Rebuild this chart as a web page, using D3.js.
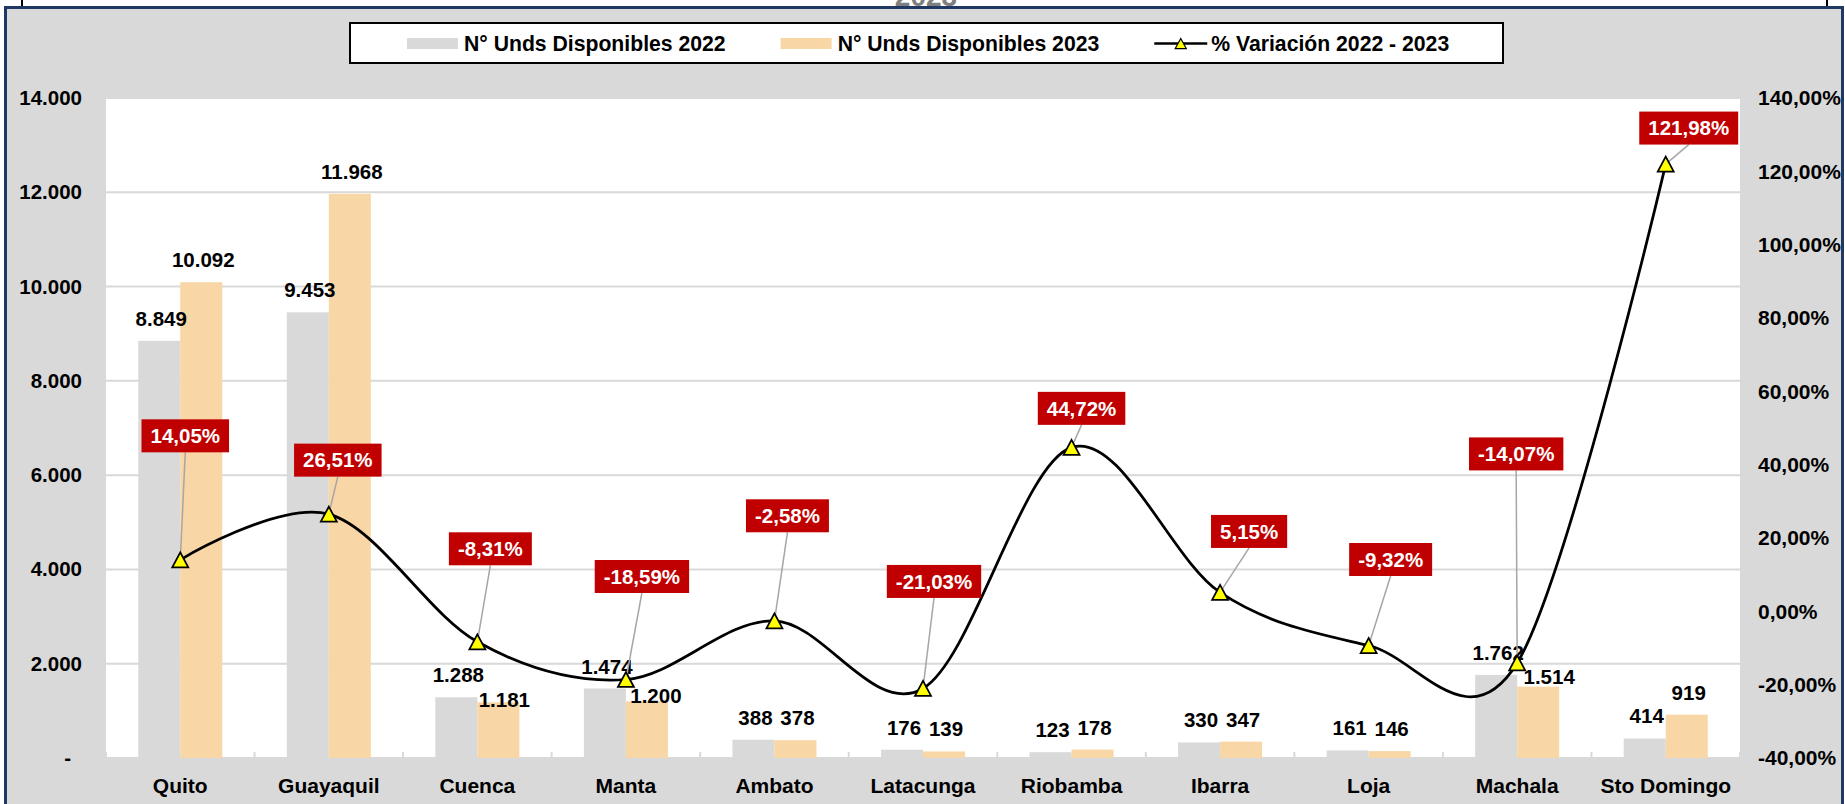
<!DOCTYPE html>
<html>
<head>
<meta charset="utf-8">
<script src="https://cdn.jsdelivr.net/npm/d3@7"></script>
<style>
  html, body { margin: 0; padding: 0; background: #fff; }
  svg { display: block; font-family: 'Liberation Sans', Arial, sans-serif; font-weight: bold; }
</style>
</head>
<body>
<script>
const cities = ['Quito', 'Guayaquil', 'Cuenca', 'Manta', 'Ambato', 'Latacunga', 'Riobamba', 'Ibarra', 'Loja', 'Machala', 'Sto Domingo']
const units2022 = [8849, 9453, 1288, 1474, 388, 176, 123, 330, 161, 1762, 414]
const units2023 = [10092, 11968, 1181, 1200, 378, 139, 178, 347, 146, 1514, 919]
const variation = [14.05, 26.51, -8.31, -18.59, -2.58, -21.03, 44.72, 5.15, -9.32, -14.07, 121.98]
const leftTicks = d3.range(0, 14001, 2000)
const rightTicks = d3.range(-40, 141, 20)
const seriesNames = ['N° Unds Disponibles 2022', 'N° Unds Disponibles 2023', '% Variación 2022 - 2023']
const titleText = '2023'

// red labels were dragged around by hand in the original, offsets from their point
const pctLabelOffset = [[5, -124], [9, -54], [13, -93], [16, -103], [13, -105], [11, -107], [10, -39], [29, -61], [22, -86], [-1, -209], [23, -36]]
// same for a few of the 2023 value labels
const label2023Nudge = { 2: [4, 20], 3: [7, 17], 9: [9, 12] }

const colors = { y2022: '#d9d9d9', y2023: '#f8d6a5', red: '#c00000', frame: '#1f3864', grid: '#d9d9d9' }

const es = d3.formatLocale({ decimal: ',', thousands: '.', grouping: [3], currency: ['', ''], minus: '-' })
const fmtUnits = es.format(',')
const fmtPct = (v) => es.format('.2f')(v) + '%'

const width = 1845
const height = 804
const plot = { left: 106, right: 1740, top: 98, bottom: 758 }

const svg = d3.select('body').append('svg')
  .attr('width', width)
  .attr('height', height)
  .attr('viewBox', [0, 0, width, height])

// title of the sheet above, mostly hidden behind the chart frame
svg.append('text')
  .text(titleText)
  .attr('x', 926)
  .attr('y', 6)
  .attr('text-anchor', 'middle')
  .attr('font-size', 28)
  .attr('fill', '#7f7f7f')

svg.selectAll('.outer')
  .data([22, 1827])
  .join('line')
    .attr('x1', d => d).attr('x2', d => d)
    .attr('y1', 0).attr('y2', 8)
    .attr('stroke', '#000')
    .attr('stroke-width', 2)

svg.append('rect')
  .attr('x', 5.5)
  .attr('y', 7.5)
  .attr('width', 1837)
  .attr('height', 830)
  .attr('fill', '#d9d9d9')
  .attr('stroke', colors.frame)
  .attr('stroke-width', 3)

svg.append('rect')
  .attr('x', plot.left)
  .attr('y', plot.top)
  .attr('width', plot.right - plot.left)
  .attr('height', plot.bottom - plot.top)
  .attr('fill', '#fff')

const x = d3.scaleBand().domain(cities).range([plot.left, plot.right])
const xSub = d3.scaleBand().domain([0, 1]).range([0, x.bandwidth()]).paddingOuter(0.768)
const y = d3.scaleLinear().domain([0, 14000]).range([plot.bottom, plot.top])
const yPct = d3.scaleLinear().domain([-40, 140]).range([plot.bottom, plot.top])
const cx = (i) => x(cities[i]) + x.bandwidth() / 2

// gridlines
svg.append('g')
  .selectAll('line')
  .data(leftTicks)
  .join('line')
    .attr('x1', plot.left)
    .attr('x2', plot.right)
    .attr('y1', d => y(d))
    .attr('y2', d => y(d))
    .attr('stroke', colors.grid)
    .attr('stroke-width', 2)

// category separators
svg.append('g')
  .selectAll('line')
  .data(d3.range(cities.length + 1))
  .join('line')
    .attr('x1', i => plot.left + i * x.step())
    .attr('x2', i => plot.left + i * x.step())
    .attr('y1', plot.bottom - 6)
    .attr('y2', plot.bottom + 4)
    .attr('stroke', colors.grid)
    .attr('stroke-width', 2)

// bars
const series = [
  { values: units2022, color: colors.y2022 },
  { values: units2023, color: colors.y2023 },
]
series.forEach((s, k) => {
  svg.append('g')
    .selectAll('rect')
    .data(s.values)
    .join('rect')
      .attr('x', (d, i) => x(cities[i]) + xSub(k))
      .attr('y', d => y(d))
      .attr('width', xSub.bandwidth())
      .attr('height', d => y(0) - y(d))
      .attr('fill', s.color)
})

// left axis
const leftAxis = svg.append('g')
  .attr('transform', 'translate(82,0)')
  .call(d3.axisLeft(y).tickValues(leftTicks).tickSize(0).tickPadding(0)
    .tickFormat(d => d === 0 ? '-' : fmtUnits(d)))
leftAxis.select('.domain').remove()
leftAxis.selectAll('text')
  .attr('font-size', 20.5)
  .attr('font-family', null)
  .attr('fill', '#000')
  .attr('x', d => d === 0 ? -11 : 0)

// right axis
const rightAxis = svg.append('g')
  .attr('transform', 'translate(1758,0)')
  .call(d3.axisRight(yPct).tickValues(rightTicks).tickSize(0).tickPadding(0)
    .tickFormat(fmtPct))
rightAxis.select('.domain').remove()
rightAxis.selectAll('text')
  .attr('font-size', 21)
  .attr('font-family', null)
  .attr('fill', '#000')

// category axis
const bottomAxis = svg.append('g')
  .attr('transform', `translate(0,${plot.bottom})`)
  .call(d3.axisBottom(x).tickSize(0).tickPadding(20))
bottomAxis.select('.domain').remove()
bottomAxis.selectAll('text')
  .attr('font-size', 21)
  .attr('font-family', null)
  .attr('fill', '#000')

// value labels on bars
series.forEach((s, k) => {
  svg.append('g')
    .selectAll('text')
    .data(s.values)
    .join('text')
      .text(d => fmtUnits(d))
      .attr('x', (d, i) => x(cities[i]) + xSub(k) + xSub.bandwidth() / 2 + 2 + (k === 1 && label2023Nudge[i] ? label2023Nudge[i][0] : 0))
      .attr('y', (d, i) => y(d) - 15 + (k === 1 && label2023Nudge[i] ? label2023Nudge[i][1] : 0))
      .attr('text-anchor', 'middle')
      .attr('font-size', 20.5)
})

// variation line
const line = d3.line()
  .curve(d3.curveCardinal.tension(0))
  .x((d, i) => cx(i))
  .y(d => yPct(d))

svg.append('path')
  .attr('d', line(variation))
  .attr('fill', 'none')
  .attr('stroke', '#000')
  .attr('stroke-width', 2.75)

const labelPos = variation.map((v, i) => [cx(i) + pctLabelOffset[i][0], yPct(v) + pctLabelOffset[i][1]])
const boxH = 33

svg.append('g')
  .selectAll('line')
  .data(variation)
  .join('line')
    .attr('x1', (d, i) => cx(i))
    .attr('y1', d => yPct(d))
    .attr('x2', (d, i) => labelPos[i][0])
    .attr('y2', (d, i) => labelPos[i][1] + boxH / 2)
    .attr('stroke', '#a6a6a6')
    .attr('stroke-width', 1.5)

const triangle = (w, h) => `M0,${-h / 2}L${w / 2},${h / 2}L${-w / 2},${h / 2}Z`

svg.append('g')
  .selectAll('path')
  .data(variation)
  .join('path')
    .attr('d', triangle(16, 15))
    .attr('transform', (d, i) => `translate(${cx(i)},${yPct(d)})`)
    .attr('fill', '#ffff00')
    .attr('stroke', '#000')
    .attr('stroke-width', 1.75)

const pctLabels = svg.append('g')
  .selectAll('g')
  .data(variation)
  .join('g')
    .attr('transform', (d, i) => `translate(${labelPos[i][0]},${labelPos[i][1]})`)

pctLabels.append('rect').attr('fill', colors.red)
pctLabels.append('text')
  .text(d => fmtPct(d))
  .attr('text-anchor', 'middle')
  .attr('y', 7.3)
  .attr('font-size', 20.5)
  .attr('fill', '#fff')
pctLabels.each(function () {
  const g = d3.select(this)
  const w = g.select('text').node().getComputedTextLength() + 18
  g.select('rect')
    .attr('x', -w / 2)
    .attr('y', -boxH / 2)
    .attr('width', w)
    .attr('height', boxH)
})

// legend
const legend = svg.append('g')
legend.append('rect')
  .attr('x', 350)
  .attr('y', 23)
  .attr('width', 1153)
  .attr('height', 40)
  .attr('fill', '#fff')
  .attr('stroke', '#000')
  .attr('stroke-width', 2)

let lx = 407
seriesNames.forEach((name, k) => {
  if (k < 2) {
    legend.append('rect')
      .attr('x', lx)
      .attr('y', 38)
      .attr('width', 51)
      .attr('height', 11)
      .attr('fill', k === 0 ? colors.y2022 : colors.y2023)
  } else {
    legend.append('line')
      .attr('x1', lx).attr('x2', lx + 53)
      .attr('y1', 43.5).attr('y2', 43.5)
      .attr('stroke', '#000')
      .attr('stroke-width', 2.5)
    legend.append('path')
      .attr('d', triangle(11, 10))
      .attr('transform', `translate(${lx + 26.5},43.5)`)
      .attr('fill', '#ffff00')
      .attr('stroke', '#000')
      .attr('stroke-width', 1.25)
  }
  const t = legend.append('text')
    .text(name)
    .attr('x', lx + 57)
    .attr('y', 50.5)
    .attr('font-size', 21.2)
  lx += 57 + t.node().getComputedTextLength() + 55
})
</script>
</body>
</html>
